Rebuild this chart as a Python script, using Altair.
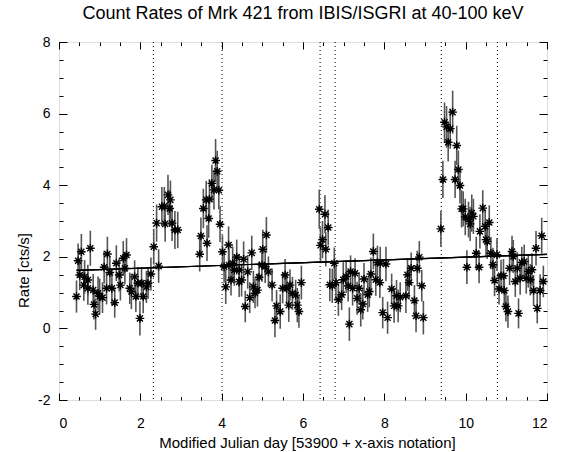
import altair as alt
import pandas as pd

seg_a = [
    (0.43, 0.89, 0.45), (0.47, 1.89, 0.48), (0.51, 1.49, 0.42), (0.55, 2.14, 0.50),
    (0.61, 1.21, 0.44), (0.63, 1.44, 0.47), (0.71, 1.35, 0.43), (0.71, 1.12, 0.46),
    (0.77, 2.24, 0.49), (0.84, 1.07, 0.45), (0.86, 0.67, 0.42), (0.90, 0.40, 0.44),
    (0.96, 0.98, 0.47), (1.00, 0.89, 0.50), (1.07, 0.86, 0.43), (1.11, 1.71, 0.46),
    (1.17, 1.12, 0.45), (1.19, 2.08, 0.48), (1.25, 1.56, 0.44), (1.30, 1.12, 0.47),
    (1.37, 0.72, 0.42), (1.41, 1.82, 0.50), (1.48, 1.49, 0.46), (1.51, 1.21, 0.43),
    (1.58, 1.96, 0.48), (1.62, 1.68, 0.45), (1.66, 2.05, 0.47), (1.74, 1.12, 0.44),
    (1.78, 1.03, 0.49), (1.86, 1.44, 0.46), (1.89, 0.89, 0.43), (1.94, 1.26, 0.45),
    (1.99, 0.28, 0.48), (2.03, 1.26, 0.44), (2.07, 0.89, 0.47), (2.15, 1.16, 0.45),
    (2.19, 1.26, 0.43), (2.26, 1.52, 0.46),
]
seg_b = [
    (2.33, 2.28, 0.50), (2.40, 2.94, 0.52), (2.45, 1.74, 0.47), (2.53, 3.40, 0.55),
    (2.59, 3.42, 0.53), (2.61, 2.92, 0.50), (2.68, 3.73, 0.56), (2.72, 3.35, 0.52),
    (2.74, 3.59, 0.54), (2.78, 2.94, 0.50), (2.85, 2.75, 0.53), (2.92, 2.75, 0.51),
]
seg_c = [
    (3.46, 2.07, 0.48), (3.49, 2.58, 0.52), (3.55, 3.35, 0.55), (3.62, 3.59, 0.53),
    (3.64, 2.38, 0.50), (3.68, 3.07, 0.54), (3.70, 3.61, 0.56), (3.76, 4.05, 0.52),
    (3.81, 3.87, 0.55), (3.85, 4.69, 0.60), (3.89, 4.39, 0.57), (3.93, 3.86, 0.53),
    (3.96, 2.91, 0.50),
]
seg_d = [
    (4.02, 2.14, 0.46), (4.06, 1.72, 0.44), (4.10, 1.16, 0.48), (4.17, 2.33, 0.52),
    (4.18, 1.77, 0.45), (4.23, 1.35, 0.43), (4.27, 1.82, 0.47), (4.31, 1.63, 0.44),
    (4.37, 1.99, 0.49), (4.43, 1.63, 0.45), (4.43, 1.30, 0.42), (4.49, 1.35, 0.46),
    (4.54, 1.93, 0.50), (4.58, 0.61, 0.44), (4.64, 1.58, 0.47), (4.69, 0.86, 0.43),
    (4.74, 2.11, 0.48), (4.78, 1.16, 0.45), (4.82, 0.98, 0.42), (4.88, 1.07, 0.46),
    (4.92, 1.43, 0.44), (4.99, 1.77, 0.47), (5.01, 2.21, 0.55), (5.07, 1.72, 0.45),
    (5.10, 2.61, 0.50), (5.15, 1.58, 0.43), (5.24, 1.21, 0.46), (5.31, 0.22, 0.47),
    (5.35, 0.63, 0.44), (5.44, 0.47, 0.48), (5.50, 1.12, 0.42), (5.56, 1.49, 0.45),
    (5.60, 1.12, 0.43), (5.65, 0.65, 0.47), (5.68, 1.21, 0.44), (5.74, 0.98, 0.46),
    (5.82, 0.93, 0.43), (5.86, 0.65, 0.48), (5.90, 0.47, 0.45), (5.96, 1.28, 0.47),
]
seg_e = [
    (6.40, 3.33, 0.55), (6.43, 2.32, 0.50), (6.48, 2.48, 0.52), (6.54, 3.19, 0.53),
    (6.56, 2.21, 0.48), (6.62, 2.82, 0.50), (6.66, 1.22, 0.46), (6.72, 1.19, 0.48),
    (6.77, 1.82, 0.44), (6.81, 1.28, 0.47), (6.87, 0.80, 0.45), (6.95, 0.94, 0.43),
    (6.99, 1.36, 0.49), (7.06, 1.45, 0.46), (7.11, 1.19, 0.44), (7.14, 0.12, 0.47),
    (7.17, 1.59, 0.45), (7.22, 1.12, 0.48), (7.28, 1.54, 0.42), (7.33, 0.84, 0.46),
    (7.38, 1.12, 0.44), (7.42, 0.52, 0.47), (7.47, 0.68, 0.43), (7.50, 1.38, 0.45),
    (7.59, 0.94, 0.48), (7.63, 1.03, 0.44), (7.67, 1.52, 0.46), (7.73, 2.15, 0.50),
    (7.79, 1.36, 0.45), (7.83, 1.84, 0.47), (7.89, 1.28, 0.43), (7.90, 1.82, 0.46),
    (7.96, 0.44, 0.44), (8.04, 1.80, 0.48), (8.08, 0.30, 0.45), (8.18, 1.10, 0.43),
    (8.24, 0.63, 0.47), (8.30, 0.91, 0.44), (8.34, 0.63, 0.46), (8.39, 0.87, 0.42),
    (8.53, 0.91, 0.48), (8.57, 1.50, 0.45), (8.61, 1.28, 0.47), (8.66, 1.68, 0.44),
    (8.74, 0.78, 0.43), (8.78, 0.35, 0.46), (8.81, 1.68, 0.49), (8.86, 1.99, 0.45),
    (8.92, 1.19, 0.44), (8.96, 0.30, 0.47),
]
seg_f = [
    (9.39, 2.78, 0.50), (9.44, 4.16, 0.52), (9.48, 5.76, 0.55), (9.53, 5.63, 0.58),
    (9.57, 5.20, 0.54), (9.62, 5.58, 0.56), (9.68, 6.04, 0.60), (9.74, 4.16, 0.52),
    (9.78, 5.11, 0.55), (9.82, 4.44, 0.53), (9.86, 3.99, 0.50), (9.90, 3.34, 0.52),
    (9.94, 3.34, 0.49), (9.99, 3.11, 0.51), (10.03, 1.71, 0.47), (10.07, 3.04, 0.50),
    (10.11, 2.92, 0.48), (10.15, 3.22, 0.52), (10.19, 3.13, 0.49), (10.26, 2.10, 0.46),
    (10.33, 1.71, 0.45), (10.35, 2.71, 0.48), (10.42, 3.36, 0.50), (10.48, 2.85, 0.47),
    (10.50, 2.48, 0.46), (10.53, 2.43, 0.49), (10.58, 2.96, 0.48), (10.62, 2.10, 0.45),
    (10.67, 1.78, 0.47), (10.71, 1.34, 0.44), (10.77, 2.06, 0.46), (10.82, 1.10, 0.43),
    (10.87, 1.47, 0.45), (10.93, 1.47, 0.47), (10.95, 1.06, 0.44), (10.99, 0.61, 0.42),
    (11.04, 0.47, 0.45), (11.08, 1.68, 0.47), (11.14, 2.15, 0.44), (11.17, 2.01, 0.46),
    (11.22, 1.31, 0.43), (11.27, 1.68, 0.45), (11.30, 0.42, 0.42), (11.34, 1.40, 0.46),
    (11.38, 1.84, 0.44), (11.44, 1.87, 0.47), (11.49, 1.40, 0.43), (11.54, 1.59, 0.45),
    (11.59, 1.36, 0.44), (11.63, 1.64, 0.46), (11.67, 1.06, 0.43), (11.73, 2.24, 0.48),
    (11.76, 0.56, 0.42), (11.83, 1.06, 0.45), (11.87, 2.59, 0.50), (11.91, 1.31, 0.44),
]

# linear fit end points
fit_day = [0.43, 12.0]
fit_rate = [1.62, 2.07]

# dotted vertical markers
marker_days = [2.32, 4.01, 6.42, 6.79, 9.40, 10.78]

x_major = [0, 2, 4, 6, 8, 10, 12]
x_minor = [0.5 * i for i in range(25)]
y_major = [-2, 0, 2, 4, 6, 8]
y_minor = [-2 + 0.5 * i for i in range(21)]

TITLE = "Count Rates of Mrk 421 from IBIS/ISGRI at 40-100 keV"
XTITLE = "Modified Julian day [53900 + x-axis notation]"
YTITLE = "Rate [cts/s]"

W, H = 488, 358
FONT = "Liberation Sans"

df = pd.DataFrame(seg_a + seg_b + seg_c + seg_d + seg_e + seg_f,
                  columns=["day", "rate", "err"])
df["lo"] = df["rate"] - df["err"]
df["hi"] = df["rate"] + df["err"]
fit_df = pd.DataFrame({"day": fit_day, "rate": fit_rate})
vl_df = pd.DataFrame({"day": marker_days})

xs = alt.Scale(domain=[0, 12], nice=False, zero=False)
ys = alt.Scale(domain=[-2, 8], nice=False, zero=False)


def tick_axis(orient, offset, values, size):
    return alt.Axis(orient=orient, offset=offset, values=values, labels=False,
                    domain=False, grid=False, ticks=True, tickSize=size,
                    tickColor="black", tickWidth=1, title=None)


x_lab = alt.Axis(orient="bottom", values=x_major, ticks=False, domain=False,
                 grid=False, labelPadding=16, labelFontSize=14, labelFont=FONT,
                 labelColor="black", labelExpr="'' + datum.value",
                 title=XTITLE, titleFontSize=15, titleFont=FONT,
                 titleFontWeight="normal", titleColor="black",
                 titleX=248, titleY=42, titleAlign="center", titleBaseline="middle")
y_lab = alt.Axis(orient="left", values=y_major, ticks=False, domain=False,
                 grid=False, labelPadding=9, labelFontSize=14, labelFont=FONT,
                 labelColor="black", labelExpr="'' + datum.value",
                 title=YTITLE, titleFontSize=15, titleFont=FONT,
                 titleFontWeight="normal", titleColor="black",
                 titleX=-36, titleY=228, titleAngle=270, titleAlign="center",
                 titleBaseline="middle")

ASTERISK = "M-1,0L1,0M0,-1L0,1M-0.7,-0.7L0.7,0.7M-0.7,0.7L0.7,-0.7"

vlines = alt.Chart(vl_df).mark_rule(color="black", strokeDash=[1, 3], strokeWidth=1).encode(
    x=alt.X("day:Q", scale=xs, axis=None)
)

errs = alt.Chart(df).mark_rule(color="#555555", strokeWidth=1.6).encode(
    x=alt.X("day:Q", scale=xs, axis=x_lab),
    y=alt.Y("lo:Q", scale=ys, axis=y_lab),
    y2="hi:Q",
)

fit1 = alt.Chart(fit_df).mark_line(color="black", strokeWidth=1.2).encode(
    x=alt.X("day:Q", scale=xs, axis=tick_axis("top", -H, x_minor, 3.5)),
    y=alt.Y("rate:Q", scale=ys, axis=tick_axis("right", -W, y_minor, 4)),
)
fit2 = alt.Chart(fit_df).mark_line(color="black", strokeWidth=1.2).encode(
    x=alt.X("day:Q", scale=xs, axis=tick_axis("bottom", -H, x_major, 7)),
    y=alt.Y("rate:Q", scale=ys, axis=tick_axis("left", -W, y_major, 8)),
)
fit3 = alt.Chart(fit_df).mark_line(color="black", strokeWidth=1.2).encode(
    x=alt.X("day:Q", scale=xs, axis=tick_axis("bottom", -H, x_minor, 3.5)),
    y=alt.Y("rate:Q", scale=ys, axis=tick_axis("left", -W, y_minor, 4)),
)

points = alt.Chart(df).mark_point(shape=ASTERISK, size=75, filled=False,
                                  stroke="black", strokeWidth=1.4, opacity=1).encode(
    x=alt.X("day:Q", scale=xs, axis=tick_axis("top", -H, x_major, 7)),
    y=alt.Y("rate:Q", scale=ys, axis=tick_axis("right", -W, y_major, 8)),
)

chart = alt.layer(vlines, errs, fit1, fit2, fit3, points).resolve_axis(
    x="independent", y="independent"
).properties(
    width=W, height=H,
    title=alt.TitleParams(TITLE, font=FONT, fontSize=18, fontWeight="normal",
                          color="black", anchor="middle", offset=12),
    autosize=alt.AutoSizeParams(type="none"),
    padding={"left": 59, "top": 42, "right": 24, "bottom": 52},
).configure_view(stroke="black", strokeWidth=1).configure(background="white")

chart.save("out.html", embed_options={"renderer": "svg", "actions": False})
